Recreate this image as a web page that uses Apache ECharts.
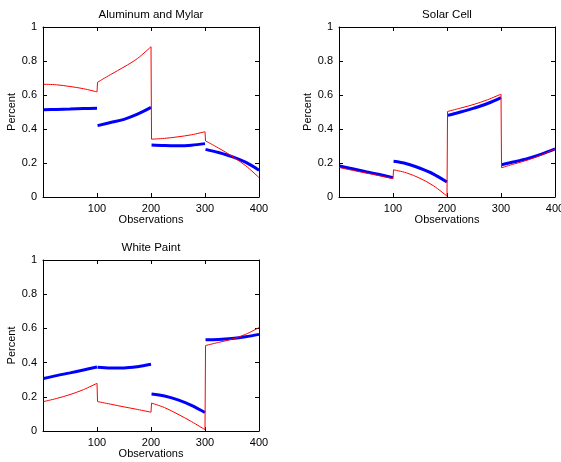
<!DOCTYPE html>
<html>
<head>
<meta charset="utf-8">
<script src="https://cdn.jsdelivr.net/npm/echarts@6/dist/echarts.min.js"></script>
<style>
html,body{margin:0;padding:0;background:#fff;}
#c{width:561px;height:462px;}
</style>
</head>
<body>
<div id="c"></div>
<script>
// Observation positions (start and end of each of four runs)
const segX = [
  [1, 25, 50, 75, 100],
  [101, 125, 150, 175, 200],
  [201, 225, 250, 275, 300],
  [301, 325, 350, 375, 400]
];
const xTicks = [100, 200, 300, 400];
const yTicks = [0, 0.2, 0.4, 0.6, 0.8, 1];

const titles = ['Aluminum and Mylar', 'Solar Cell', 'White Paint'];

// Red (thin) line values, 4 runs x 5 points
const alRed = [0.663,0.660,0.650,0.637,0.618, 0.675,0.720,0.765,0.815,0.884, 0.340,0.345,0.354,0.366,0.384, 0.330,0.288,0.240,0.185,0.114];
const scRed = [0.173,0.157,0.141,0.125,0.108, 0.160,0.142,0.110,0.066,0.005, 0.503,0.523,0.545,0.572,0.605, 0.172,0.195,0.218,0.247,0.283];
const wpRed = [0.172,0.190,0.213,0.242,0.279, 0.172,0.157,0.141,0.126,0.110, 0.163,0.137,0.098,0.055,0.008, 0.500,0.518,0.537,0.565,0.605];

// Blue (thick) line values, 4 runs x 5 points
const alBlue = [0.513,0.515,0.517,0.520,0.522, 0.420,0.438,0.457,0.487,0.527, 0.306,0.303,0.302,0.305,0.314, 0.280,0.262,0.238,0.205,0.158];
const scBlue = [0.182,0.166,0.149,0.132,0.114, 0.210,0.196,0.169,0.135,0.088, 0.480,0.500,0.523,0.550,0.585, 0.190,0.207,0.227,0.252,0.283];
const wpBlue = [0.307,0.324,0.340,0.357,0.374, 0.373,0.369,0.369,0.376,0.390, 0.216,0.205,0.182,0.150,0.108, 0.533,0.535,0.541,0.551,0.565];

const redSets = [alRed, scRed, wpRed];
const blueSets = [alBlue, scBlue, wpBlue];

const FONT = 'Liberation Sans, Arial, Helvetica, sans-serif';
const grids = [
  {left: 43, top: 27, width: 216, height: 170},
  {left: 339, top: 27, width: 216, height: 170},
  {left: 43, top: 260, width: 216, height: 171}
];

const chart = echarts.init(document.getElementById('c'), null, {renderer: 'canvas'});
const xAxes = [], yAxes = [], series = [], graphics = [];
const lineStyle = {color: '#000', width: 1};
const tick = {show: true, inside: true, length: 4, lineStyle: {color: '#000', width: 1}};

grids.forEach((g, i) => {
  xAxes.push({
    type: 'value', gridIndex: i, min: 0, max: 400, interval: 100, position: 'bottom',
    axisLine: {show: true, onZero: false, lineStyle},
    axisTick: tick, splitLine: {show: false},
    axisLabel: {color: '#000', fontSize: 11, fontFamily: FONT, margin: 6,
      formatter: v => xTicks.includes(v) ? String(v) : ''},
    name: 'Observations', nameLocation: 'middle', nameGap: 17,
    nameTextStyle: {color: '#000', fontSize: 11, fontFamily: FONT}
  });
  xAxes.push({
    type: 'value', gridIndex: i, min: 0, max: 400, interval: 100, position: 'top',
    axisLine: {show: true, onZero: false, lineStyle},
    axisTick: tick, axisLabel: {show: false}, splitLine: {show: false}
  });
  yAxes.push({
    type: 'value', gridIndex: i, min: 0, max: 1, interval: 0.2, position: 'left',
    axisLine: {show: true, onZero: false, lineStyle},
    axisTick: tick, splitLine: {show: false},
    axisLabel: {color: '#000', fontSize: 11, fontFamily: FONT, margin: 6,
      formatter: v => { const t = yTicks.find(k => Math.abs(k - v) < 1e-9); return t === undefined ? '' : String(t); }},
    name: 'Percent', nameLocation: 'middle', nameGap: 16,
    nameTextStyle: {color: '#000', fontSize: 11, fontFamily: FONT}
  });
  yAxes.push({
    type: 'value', gridIndex: i, min: 0, max: 1, interval: 0.2, position: 'right',
    axisLine: {show: true, onZero: false, lineStyle},
    axisTick: tick, axisLabel: {show: false}, splitLine: {show: false}
  });

  const xi = i * 2, yi = i * 2;
  const red = redSets[i], blue = blueSets[i];
  segX.forEach((xs, s) => {
    // smooth red run
    series.push({
      type: 'line', xAxisIndex: xi, yAxisIndex: yi,
      data: xs.map((x, k) => [x, red[s * 5 + k]]),
      showSymbol: false, symbol: 'none', smooth: 0.35,
      lineStyle: {color: '#ff0000', width: 1}, z: 3, animation: false
    });
    // straight red jump joining this run's end to the next run's start
    if (s < segX.length - 1) {
      series.push({
        type: 'line', xAxisIndex: xi, yAxisIndex: yi,
        data: [[xs[4], red[s * 5 + 4]], [segX[s + 1][0], red[(s + 1) * 5]]],
        showSymbol: false, symbol: 'none', smooth: false,
        lineStyle: {color: '#ff0000', width: 1}, z: 3, animation: false
      });
    }
    // thick blue run
    series.push({
      type: 'line', xAxisIndex: xi, yAxisIndex: yi,
      data: xs.map((x, k) => [x, blue[s * 5 + k]]),
      showSymbol: false, symbol: 'none', smooth: 0.35,
      lineStyle: {color: '#0000ff', width: 3, cap: 'butt'}, z: 2, animation: false
    });
  });

  graphics.push({
    type: 'text', x: g.left + g.width / 2, y: g.top - 12,
    style: {text: titles[i], fill: '#000', font: '11.5px ' + FONT, textAlign: 'center', textVerticalAlign: 'middle'}
  });
});

chart.setOption({
  animation: false,
  backgroundColor: '#fff',
  grid: grids.map(g => Object.assign({containLabel: false, outerBoundsMode: 'none'}, g)),
  xAxis: xAxes,
  yAxis: yAxes,
  series: series,
  graphic: graphics
});
</script>
</body>
</html>
